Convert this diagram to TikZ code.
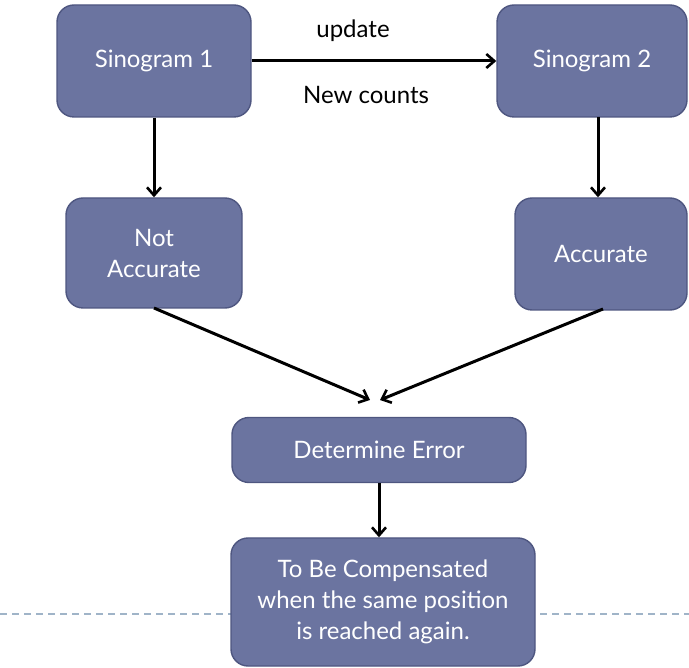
\documentclass[tikz,border=0pt]{standalone}
\usepackage{fontspec}
\setmainfont{Lato}
\usetikzlibrary{arrows.meta}
\definecolor{boxfill}{RGB}{107,116,160}
\definecolor{boxline}{RGB}{78,86,128}
\definecolor{rulecol}{RGB}{160,180,200}
\tikzset{
  flowbox/.style={draw=boxline, line width=1.4pt, fill=boxfill, rounded corners=17pt,
    text=white, align=center, font=\fontsize{24}{31}\selectfont, inner sep=0pt},
  flowarrow/.style={draw=black, line width=3pt, -{Straight Barb[length=8pt,width=14pt,line width=2.6pt]}},
  plainlabel/.style={font=\fontsize{24}{29}\selectfont, text=black}
}
\begin{document}
\begin{tikzpicture}[x=1pt,y=-1pt]
  \useasboundingbox (0,0) rectangle (689,668);
  % dashed rule behind the last box
  \draw[rulecol, line width=1.2pt, dash pattern=on 7pt off 5pt] (0,614) -- (689,614);

  \node[flowbox, minimum width=194pt, minimum height=112pt] (s1) at (154,61) {Sinogram 1};
  \node[flowbox, minimum width=190pt, minimum height=112pt] (s2) at (592,61) {Sinogram 2};
  \node[flowbox, minimum width=176pt, minimum height=110pt] (na) at (154,253) {Not\\Accurate};
  \node[flowbox, minimum width=172pt, minimum height=112pt] (ac) at (601,254) {Accurate};
  \node[flowbox, minimum width=294pt, minimum height=65pt] (de) at (379,450) {Determine Error};
  \node[flowbox, minimum width=304pt, minimum height=128pt] (tb) at (383,602)
    {To Be Compensated\\when the same position\\is reached again.};

  \node[plainlabel] (upd) at (353,31) {update};
  \node[plainlabel] (nc) at (366,95) {New counts};

  \coordinate (mL) at (370,400);
  \coordinate (mR) at (380,400);
  \coordinate (naOut) at (154,308);
  \coordinate (acOut) at (603,309);
  \coordinate (s2Out) at (598,117);

  \draw[flowarrow] (s1.east) -- (s2.west);
  \draw[flowarrow] (s1.south) -- (na.north);
  \draw[flowarrow] (s2Out) -- (s2Out |- ac.north);
  \draw[flowarrow] (naOut) -- (mL);
  \draw[flowarrow] (acOut) -- (mR);
  \draw[flowarrow] (de.south) -- (de.south |- tb.north);
\end{tikzpicture}
\end{document}
